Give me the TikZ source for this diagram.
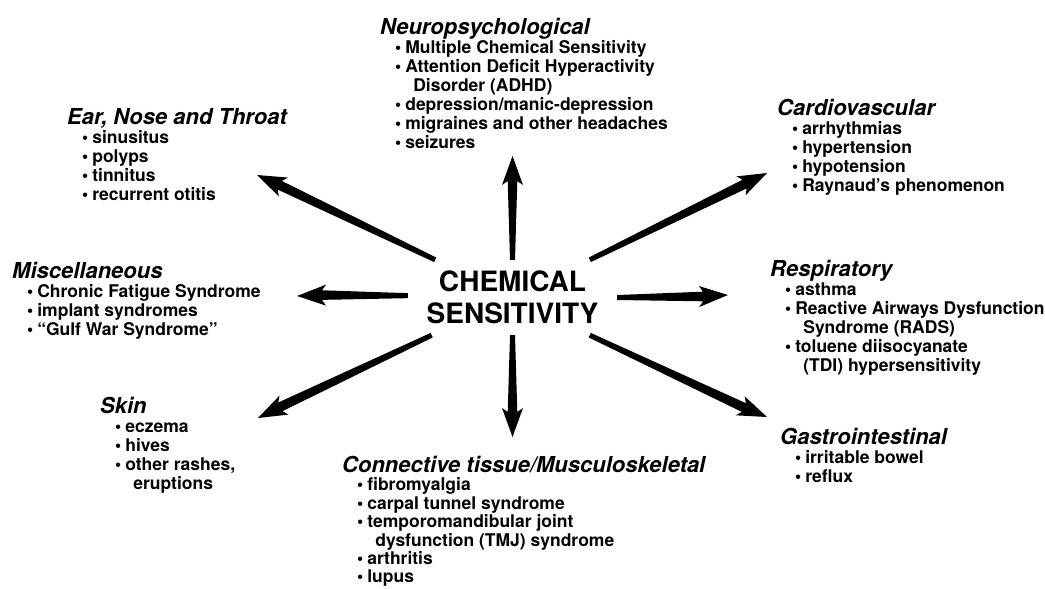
\documentclass[tikz,border=0pt]{standalone}
\usepackage{fontspec}
\setmainfont{TeX Gyre Heros}
\usetikzlibrary{calc}

\newcommand{\grp}[1]{{\fontsize{22}{19}\selectfont\itshape #1}}
\newcommand{\itm}[1]{\hspace*{15pt}\textbullet\hspace{4pt}#1}
\newcommand{\cnt}[1]{\hspace*{15pt}\phantom{\textbullet}\hspace{12pt}#1}

\begin{document}
\begin{tikzpicture}[%
	x=1pt,y=-1pt,
	every node/.style={font=\fontsize{17.5}{19}\selectfont\bfseries},
	group/.style={anchor=north west,inner sep=0pt,align=left},
	wedge/.style={to path={%
		let \p1=(\tikztostart), \p2=(\tikztotarget),
			\n1={mod(atan2(\y2-\y1,\x2-\x1)+360,360)},
			\p3=(\tikztostart.\n1), \n2={veclen(\x2-\x3,\y2-\y3)} in
		($(\p3)+(\n1+90:2.5pt)$) -- ($(\p3)+(\n1:\n2-25pt)+(\n1+90:4.8pt)$)
		-- ($(\p3)+(\n1:\n2-29pt)+(\n1+90:10.5pt)$) -- (\p2)
		-- ($(\p3)+(\n1:\n2-29pt)+(\n1-90:10.5pt)$)
		-- ($(\p3)+(\n1:\n2-25pt)+(\n1-90:4.8pt)$)
		-- ($(\p3)+(\n1-90:2.5pt)$) -- cycle}}]

	\useasboundingbox (0,0) rectangle (1045,589);

	\node (CS) [minimum width=209pt,minimum height=75pt,inner sep=0pt,align=center,
		font=\fontsize{28}{32}\selectfont\bfseries] at (512.5,297.5) {%
		CHEMICAL\\SENSITIVITY};

	\node[group] (NEU) at (380,18) {%
		\grp{Neuropsychological}\\
		\itm{Multiple Chemical Sensitivity}\\
		\itm{Attention Deficit Hyperactivity}\\
		\cnt{Disorder (ADHD)}\\
		\itm{depression/manic-depression}\\
		\itm{migraines and other headaches}\\
		\itm{seizures}
	};
	\node[group] (ENT) at (67,108) {%
		\grp{Ear, Nose and Throat}\\
		\itm{sinusitus}\\
		\itm{polyps}\\
		\itm{tinnitus}\\
		\itm{recurrent otitis}
	};
	\node[group] (CAR) at (777,99) {%
		\grp{Cardiovascular}\\
		\itm{arrhythmias}\\
		\itm{hypertension}\\
		\itm{hypotension}\\
		\itm{Raynaud's phenomenon}
	};
	\node[group] (MIS) at (12,262) {%
		\grp{Miscellaneous}\\
		\itm{Chronic Fatigue Syndrome}\\
		\itm{implant syndromes}\\
		\itm{``Gulf War Syndrome''}
	};
	\node[group] (RES) at (770,260) {%
		\grp{Respiratory}\\
		\itm{asthma}\\
		\itm{Reactive Airways Dysfunction}\\
		\cnt{Syndrome (RADS)}\\
		\itm{toluene diisocyanate}\\
		\cnt{(TDI) hypersensitivity}
	};
	\node[group] (SKI) at (100,397) {%
		\grp{Skin}\\
		\itm{eczema}\\
		\itm{hives}\\
		\itm{other rashes,}\\
		\cnt{eruptions}
	};
	\node[group] (GAS) at (780,428) {%
		\grp{Gastrointestinal}\\
		\itm{irritable bowel}\\
		\itm{reflux}
	};
	\node[group,font=\fontsize{17.5}{18.4}\selectfont\bfseries] (CON) at (342,456) {%
		\grp{Connective tissue/Musculoskeletal}\\
		\itm{fibromyalgia}\\
		\itm{carpal tunnel syndrome}\\
		\itm{temporomandibular joint}\\
		\cnt{dysfunction (TMJ) syndrome}\\
		\itm{arthritis}\\
		\itm{lupus}
	};

	\coordinate (hNEU) at (512.5,156);
	\coordinate (hENT) at (257,175);
	\coordinate (hCAR) at (767,173);
	\coordinate (hMIS) at (297,296);
	\coordinate (hRES) at (728,295);
	\coordinate (hSKI) at (258,418);
	\coordinate (hGAS) at (767,417);
	\coordinate (hCON) at (512.5,437);

	\foreach \h in {NEU,ENT,CAR,MIS,RES,SKI,GAS,CON}
		\fill (CS) to[wedge] (h\h);

\end{tikzpicture}
\end{document}
